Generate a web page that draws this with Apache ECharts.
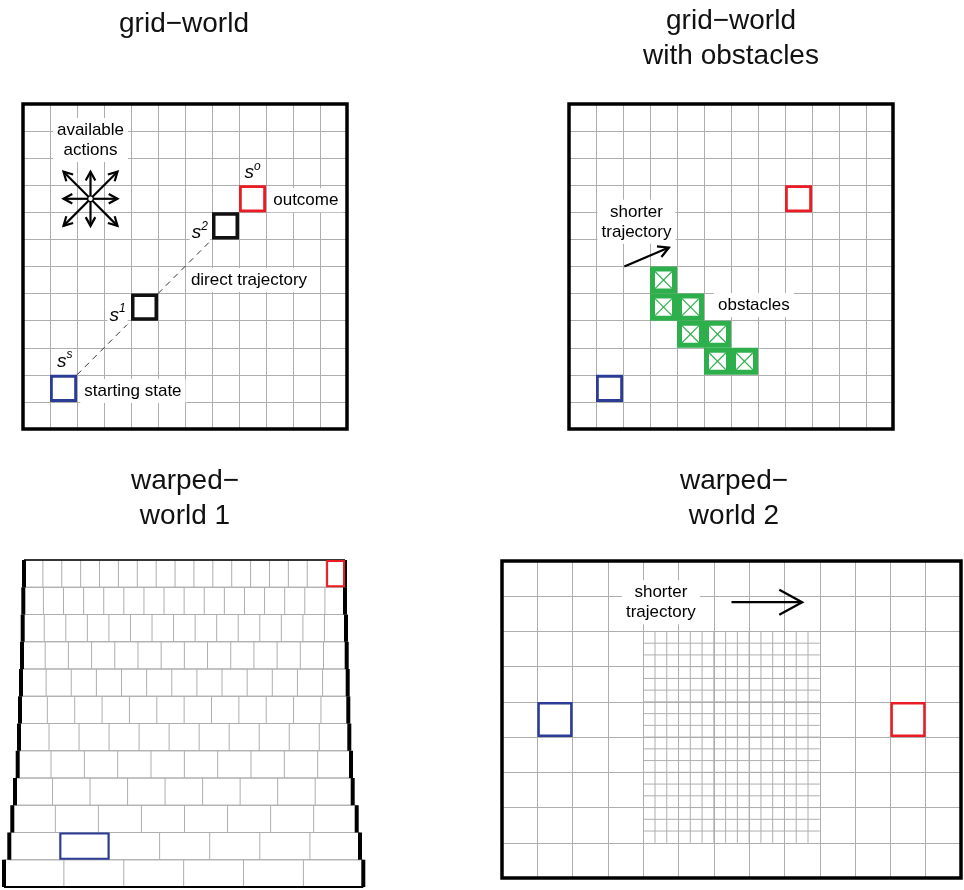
<!DOCTYPE html>
<html>
<head>
<meta charset="utf-8">
<title>grid worlds</title>
<script src="https://cdn.jsdelivr.net/npm/echarts@6/dist/echarts.min.js"></script>
<style>
html,body{margin:0;padding:0;background:#fff;}
#main{width:964px;height:890px;}
</style>
</head>
<body>
<div id="main"></div>
<script type="text/javascript">
// grid-world, 12 x 12, cells are [col, row] from the lower left
var gridSize = 12;
var startCell = [1, 1];
var pathCells = [[4, 4], [7, 7]];
var outcomeCell = [8, 8];
var directPath = [[2, 2, 4, 4], [5, 5, 7, 7]];
var actionCenter = [2.5, 8.5];
var actionDirs = [[1, 0], [1, 1], [0, 1], [-1, 1], [-1, 0], [-1, -1], [0, -1], [1, -1]];
var stateLabels = [[8.5, 9.5, 'o'], [6.55, 7.3, '2'], [3.5, 4.25, '1'], [1.55, 2.55, 's']];
var worldLabels = [[2.5, 10.67, 'available\nactions', 'center'], [9.12, 8.45, 'outcome', 'left'],
                   [6.07, 5.5, 'direct trajectory', 'left'], [2.12, 1.4, 'starting state', 'left']];

// grid-world with obstacles
var obstacleCells = [[3, 5], [3, 4], [4, 4], [4, 3], [5, 3], [5, 2], [6, 2]];
var shortcut1 = [[2.05, 6.0, 3.7, 6.7]];
var obstacleLabels = [[2.5, 7.65, 'shorter\ntrajectory', 'center'], [5.37, 4.58, 'obstacles', 'left']];

// warped-world 1, rows from bottom to top
var warpCols  = [6, 7, 8, 9, 10, 11, 12, 13, 14, 15, 16, 17];
var warpLeft  = [1, 6.3, 9.3, 12, 14.7, 16, 17, 18, 19, 19.7, 20.3, 21];
var warpRight = [360.3, 357, 353.7, 349.7, 348, 346.3, 345.3, 344.7, 343.7, 343, 342, 342];
var warp1Start = [1, 1];
var warp1Outcome = [16, 11];

// warped-world 2, 13 x 9 with a finer patch in the middle
var warp2Cols = 13, warp2Rows = 9;
var fineRegion = [[4, 1, 9, 7]];
var fineSplit = 3;
var warp2Start = [1, 4];
var warp2Outcome = [11, 4];
var shortcut2 = [[6.5, 7.83, 8.5, 7.83]];
var warp2Labels = [[4.5, 7.83, 'shorter\ntrajectory', 'center']];

var FONT = '"Liberation Sans", Arial, Helvetica, sans-serif';
var GRAY = '#aeaeae';
var RED = '#ec1c24', BLUE = '#2b3c96', GREEN = '#2db04b';

function axis(idx, max, split) {
    var a = {type: 'value', gridIndex: idx, min: 0, max: max,
        axisLine: {show: false}, axisTick: {show: false}, axisLabel: {show: false},
        splitLine: {show: split, lineStyle: {color: GRAY, width: 1}}};
    if (split) a.interval = 1;
    return a;
}

function custom(idx, data, render, z) {
    return {type: 'custom', xAxisIndex: idx, yAxisIndex: idx, data: data, renderItem: render,
        silent: true, clip: false, z: z || 2};
}

// outline of one cell
function cellBox(color, lw) {
    return function (params, api) {
        var p0 = api.coord([api.value(0), api.value(1) + 1]);
        var p1 = api.coord([api.value(0) + 1, api.value(1)]);
        var h = lw / 2;
        return {type: 'rect', shape: {x: p0[0] + h, y: p0[1] + h, width: p1[0] - p0[0] - lw, height: p1[1] - p0[1] - lw},
            style: {fill: 'none', stroke: color, lineWidth: lw}};
    };
}

function frame(lw) {
    return function (params, api) {
        var p0 = api.coord([api.value(0), api.value(3)]);
        var p1 = api.coord([api.value(2), api.value(1)]);
        return {type: 'rect', shape: {x: p0[0], y: p0[1], width: p1[0] - p0[0], height: p1[1] - p0[1]},
            style: {fill: 'none', stroke: '#000', lineWidth: lw}};
    };
}

function arrow(head, lw) {
    return function (params, api) {
        var a = api.coord([api.value(0), api.value(1)]);
        var b = api.coord([api.value(2), api.value(3)]);
        var ang = Math.atan2(b[1] - a[1], b[0] - a[0]);
        var w = 0.5;
        var l = [b[0] - head * Math.cos(ang - w), b[1] - head * Math.sin(ang - w)];
        var r = [b[0] - head * Math.cos(ang + w), b[1] - head * Math.sin(ang + w)];
        return {type: 'group', children: [
            {type: 'line', shape: {x1: a[0], y1: a[1], x2: b[0], y2: b[1]}, style: {stroke: '#000', lineWidth: lw}},
            {type: 'polyline', shape: {points: [l, b, r]}, style: {stroke: '#000', lineWidth: lw, fill: null}}
        ]};
    };
}

function textLabels(list) {
    return function (params, api) {
        var d = list[params.dataIndex];
        var p = api.coord([d[0], d[1]]);
        return {type: 'text', x: p[0], y: p[1], style: {
            text: d[2], align: d[3], verticalAlign: 'middle', fill: '#000',
            fontFamily: FONT, fontSize: 17, lineHeight: 20,
            backgroundColor: '#fff', padding: [2, 4]}};
    };
}

function stateText(params, api) {
    var d = stateLabels[params.dataIndex];
    var p = api.coord([d[0], d[1]]);
    return {type: 'text', x: p[0], y: p[1], style: {
        text: '{s|s}{p|' + d[2] + '}', align: 'center', verticalAlign: 'middle',
        backgroundColor: '#fff', padding: [0, 2],
        rich: {
            s: {fontFamily: FONT, fontStyle: 'italic', fontSize: 19, lineHeight: 22, verticalAlign: 'bottom', fill: '#000'},
            p: {fontFamily: FONT, fontStyle: 'italic', fontSize: 12, lineHeight: 13, verticalAlign: 'top', fill: '#000'}
        }}};
}

var chart = echarts.init(document.getElementById('main'));

var series = [];
// grid-world
series.push(custom(0, [[0, 0, gridSize, gridSize]], frame(3.5), 5));
series.push(custom(0, directPath, function (params, api) {
    var a = api.coord([api.value(0), api.value(1)]);
    var b = api.coord([api.value(2), api.value(3)]);
    return {type: 'line', shape: {x1: a[0], y1: a[1], x2: b[0], y2: b[1]},
        style: {stroke: '#333', lineWidth: 1, lineDash: [6, 5]}};
}));
series.push(custom(0, [startCell], cellBox(BLUE, 2.8)));
series.push(custom(0, pathCells, cellBox('#111', 3.5)));
series.push(custom(0, [outcomeCell], cellBox(RED, 2.8)));
series.push(custom(0, actionDirs.map(function (d) {
    return [actionCenter[0], actionCenter[1], actionCenter[0] + d[0], actionCenter[1] + d[1]];
}), arrow(10, 2.2)));
series.push(custom(0, [actionCenter], function (params, api) {
    var p = api.coord([api.value(0), api.value(1)]);
    return {type: 'circle', shape: {cx: p[0], cy: p[1], r: 2.8}, style: {fill: '#fff', stroke: '#000', lineWidth: 1.2}};
}, 3));
series.push(custom(0, stateLabels, stateText, 4));
series.push(custom(0, worldLabels, textLabels(worldLabels), 4));

// grid-world with obstacles
series.push(custom(1, [[0, 0, gridSize, gridSize]], frame(3.5), 5));
series.push(custom(1, [startCell], cellBox(BLUE, 2.8)));
series.push(custom(1, [outcomeCell], cellBox(RED, 2.8)));
series.push(custom(1, obstacleCells, function (params, api) {
    var p0 = api.coord([api.value(0), api.value(1) + 1]);
    var p1 = api.coord([api.value(0) + 1, api.value(1)]);
    var lw = 5, h = lw / 2;
    var x0 = p0[0] + h, y0 = p0[1] + h, x1 = p1[0] - h, y1 = p1[1] - h;
    return {type: 'group', children: [
        {type: 'rect', shape: {x: x0, y: y0, width: x1 - x0, height: y1 - y0}, style: {fill: '#fff', stroke: GREEN, lineWidth: lw}},
        {type: 'line', shape: {x1: x0 + h, y1: y0 + h, x2: x1 - h, y2: y1 - h}, style: {stroke: GREEN, lineWidth: 1.2}},
        {type: 'line', shape: {x1: x1 - h, y1: y0 + h, x2: x0 + h, y2: y1 - h}, style: {stroke: GREEN, lineWidth: 1.2}}
    ]};
}));
series.push(custom(1, shortcut1, arrow(12, 2.2)));
series.push(custom(1, obstacleLabels, textLabels(obstacleLabels), 4));

// warped-world 1
series.push(custom(2, warpCols.map(function (n, r) { return [warpLeft[r], r, warpRight[r], n]; }), function (params, api) {
    var r = params.dataIndex;
    var left = warpLeft[r], right = warpRight[r], n = warpCols[r];
    var lt = api.coord([left, r + 1]), rb = api.coord([right, r]);
    var kids = [{type: 'rect', shape: {x: lt[0], y: lt[1], width: rb[0] - lt[0], height: rb[1] - lt[1]},
        style: {fill: 'none', stroke: GRAY, lineWidth: 1}}];
    for (var c = 1; c < n; c++) {
        var p = api.coord([left + c * (right - left) / n, r]);
        kids.push({type: 'line', shape: {x1: p[0], y1: lt[1], x2: p[0], y2: rb[1]}, style: {stroke: GRAY, lineWidth: 1}});
    }
    kids.push({type: 'line', shape: {x1: lt[0], y1: lt[1], x2: lt[0], y2: rb[1]}, style: {stroke: '#000', lineWidth: 4}, z2: 5});
    kids.push({type: 'line', shape: {x1: rb[0], y1: lt[1], x2: rb[0], y2: rb[1]}, style: {stroke: '#000', lineWidth: 4}, z2: 5});
    if (r === 0) kids.push({type: 'line', shape: {x1: lt[0], y1: rb[1], x2: rb[0], y2: rb[1]}, style: {stroke: '#000', lineWidth: 2}, z2: 5});
    if (r === warpCols.length - 1) kids.push({type: 'line', shape: {x1: lt[0], y1: lt[1], x2: rb[0], y2: lt[1]}, style: {stroke: '#000', lineWidth: 1.5}, z2: 5});
    return {type: 'group', children: kids};
}));
function warpCell(color) {
    return function (params, api) {
        var c = api.value(0), r = api.value(1);
        var w = (warpRight[r] - warpLeft[r]) / warpCols[r];
        var p0 = api.coord([warpLeft[r] + c * w, r + 1]);
        var p1 = api.coord([warpLeft[r] + (c + 1) * w, r]);
        return {type: 'rect', shape: {x: p0[0] + 1, y: p0[1] + 1, width: p1[0] - p0[0] - 2, height: p1[1] - p0[1] - 2},
            style: {fill: 'none', stroke: color, lineWidth: 2}};
    };
}
series.push(custom(2, [warp1Start], warpCell(BLUE), 3));
series.push(custom(2, [warp1Outcome], warpCell(RED), 3));

// warped-world 2
series.push(custom(3, fineRegion, function (params, api) {
    var x0 = api.value(0), y0 = api.value(1), x1 = api.value(2), y1 = api.value(3);
    var a = api.coord([x0, y1]), b = api.coord([x1, y0]);
    var kids = [];
    for (var i = 1; i < (x1 - x0) * fineSplit; i++) {
        var px = api.coord([x0 + i / fineSplit, y0])[0];
        kids.push({type: 'line', shape: {x1: px, y1: a[1], x2: px, y2: b[1]}, style: {stroke: GRAY, lineWidth: 1}});
    }
    for (var j = 1; j < (y1 - y0) * fineSplit; j++) {
        var py = api.coord([x0, y0 + j / fineSplit])[1];
        kids.push({type: 'line', shape: {x1: a[0], y1: py, x2: b[0], y2: py}, style: {stroke: GRAY, lineWidth: 1}});
    }
    return {type: 'group', children: kids};
}, 1));
series.push(custom(3, [[0, 0, warp2Cols, warp2Rows]], frame(3.5), 5));
series.push(custom(3, [warp2Start], cellBox(BLUE, 2.5)));
series.push(custom(3, [warp2Outcome], cellBox(RED, 2.5)));
series.push(custom(3, shortcut2, arrow(26, 2.3)));
series.push(custom(3, warp2Labels, textLabels(warp2Labels), 4));

function title(text, x, y) {
    return {type: 'text', x: x, y: y, style: {text: text, align: 'center', verticalAlign: 'top',
        fontFamily: FONT, fontSize: 28, lineHeight: 35, fill: '#111'}};
}

chart.setOption({
    animation: false,
    backgroundColor: '#fff',
    grid: [
        {left: 23, top: 104, width: 324, height: 325},
        {left: 569, top: 104, width: 324, height: 325},
        {left: 3, top: 560, width: 361, height: 327},
        {left: 502, top: 561, width: 459, height: 317}
    ],
    xAxis: [axis(0, gridSize, true), axis(1, gridSize, true), axis(2, 361, false), axis(3, warp2Cols, true)],
    yAxis: [axis(0, gridSize, true), axis(1, gridSize, true), axis(2, warpCols.length, false), axis(3, warp2Rows, true)],
    graphic: [
        title('grid\u2212world', 184, 7),
        title('grid\u2212world\nwith obstacles', 731, 4),
        title('warped\u2212\nworld 1', 185, 464),
        title('warped\u2212\nworld 2', 734, 464)
    ],
    series: series
});
</script>
</body>
</html>
